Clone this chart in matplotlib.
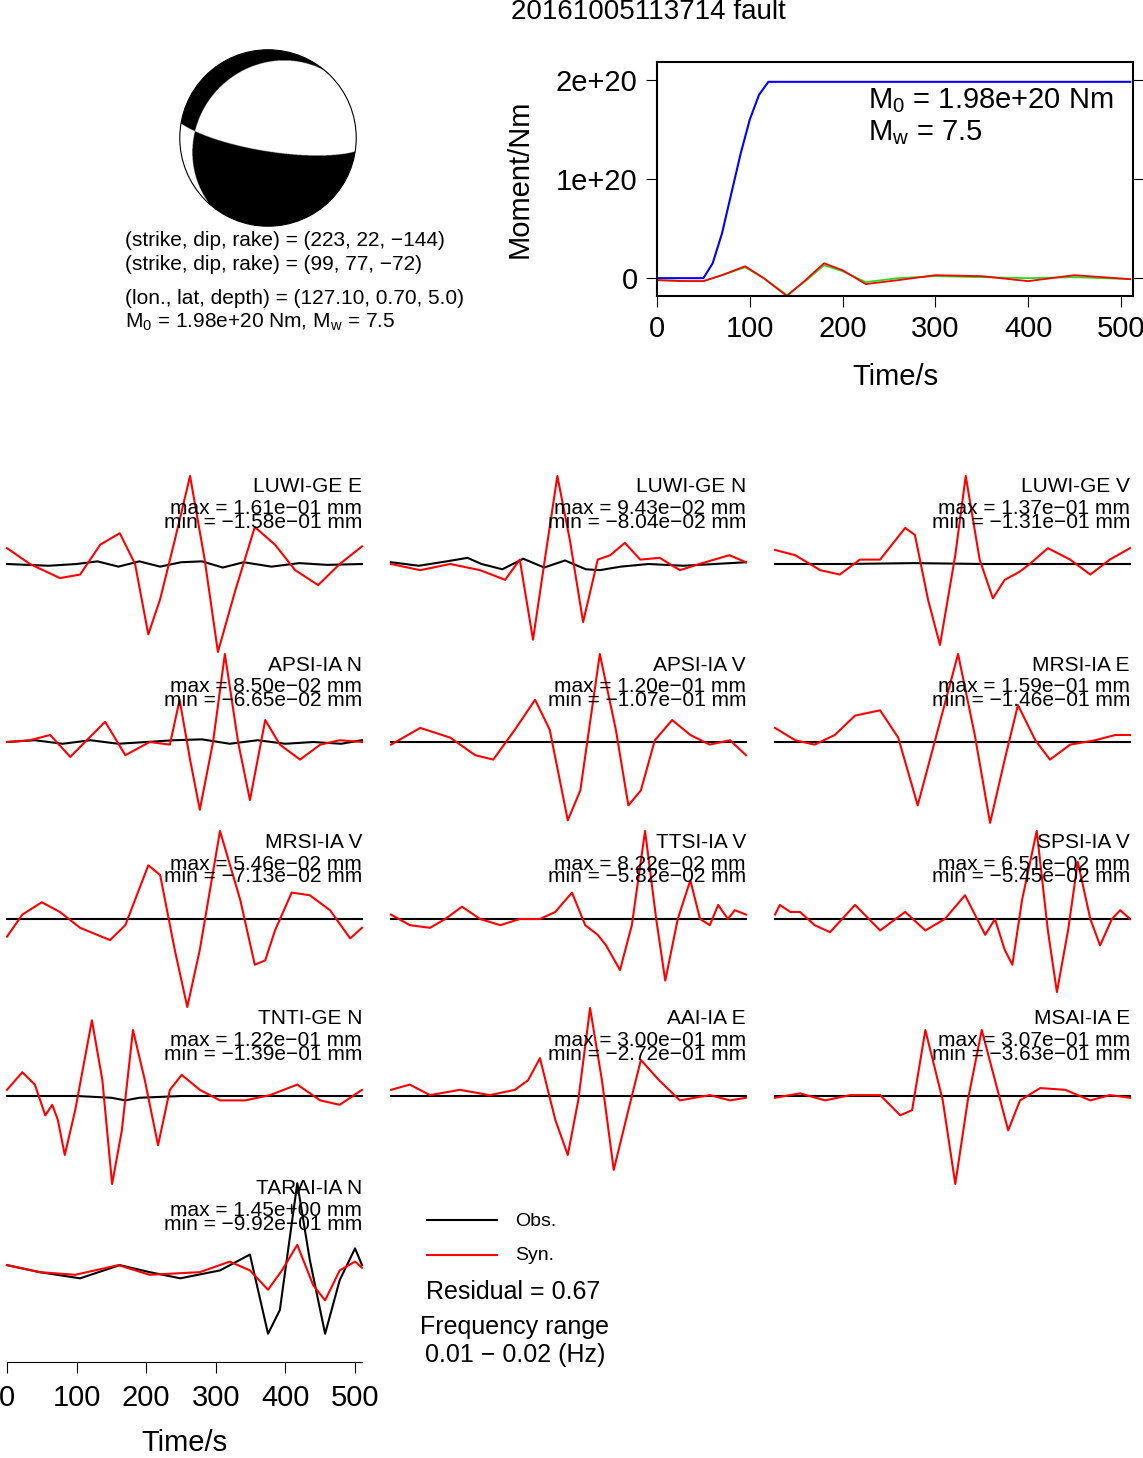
import numpy as np
import matplotlib
matplotlib.use("Agg")
import matplotlib.pyplot as plt
from matplotlib.patches import Circle

plt.rcParams['font.family'] = ['Liberation Sans', 'DejaVu Sans']
plt.rcParams['mathtext.default'] = 'regular'
W, H = 1143, 1458
fig = plt.figure(figsize=(W/100, H/100), dpi=100)

title = "20161005113714 fault"
strike, dip, rake = 223, 22, -144
info_lines = ["(strike, dip, rake) = (223, 22, \u2212144)",
              "(strike, dip, rake) = (99, 77, \u221272)",
              "(lon., lat, depth) = (127.10, 0.70, 5.0)",
              "M$_0$ = 1.98e+20 Nm, M$_w$ = 7.5"]

# moment function
mt_t = [0, 50, 60, 70, 80, 90, 100, 110, 120, 510]
mt_cum = [0, 0, 0.15, 0.45, 0.85, 1.25, 1.6, 1.85, 1.98, 1.98]
osc_t = [0, 30, 50, 70, 95, 115, 140, 160, 180, 200, 225, 260, 300, 350, 400, 450, 510]
osc_red = [-0.02, -0.03, -0.03, 0.03, 0.12, 0.0, -0.18, -0.02, 0.15, 0.08, -0.06, -0.02, 0.03, 0.02, -0.03, 0.03, -0.01]
osc_green = [-0.02, -0.03, -0.03, 0.03, 0.11, 0.0, -0.17, -0.03, 0.13, 0.07, -0.04, 0.0, 0.02, 0.01, 0.0, 0.01, -0.01]

stations = ["LUWI-GE E", "LUWI-GE N", "LUWI-GE V", "APSI-IA N", "APSI-IA V", "MRSI-IA E",
            "MRSI-IA V", "TTSI-IA V", "SPSI-IA V", "TNTI-GE N", "AAI-IA E", "MSAI-IA E", "TARAI-IA N"]
maxs = ["1.61e\u221201", "9.43e\u221202", "1.37e\u221201", "8.50e\u221202", "1.20e\u221201", "1.59e\u221201",
        "5.46e\u221202", "8.22e\u221202", "6.51e\u221202", "1.22e\u221201", "3.00e\u221201", "3.07e\u221201", "1.45e+00"]
mins = ["\u22121.58e\u221201", "\u22128.04e\u221202", "\u22121.31e\u221201", "\u22126.65e\u221202", "\u22121.07e\u221201", "\u22121.46e\u221201",
        "\u22127.13e\u221202", "\u22125.82e\u221202", "\u22125.45e\u221202", "\u22121.39e\u221201", "\u22122.72e\u221201", "\u22123.63e\u221201", "\u22129.92e\u221201"]

syn_t = [
 [0,33,76,105,134,162,184,203,220,241,263,284,303,328,356,385,414,447,478,510],
 [0,42,85,128,164,185,204,221,239,257,276,297,315,336,358,386,415,443,486,510],
 [0,29,65,93,122,151,187,201,220,237,259,274,294,313,330,351,366,392,424,453,481,510],
 [0,33,62,91,112,141,170,205,234,248,263,277,296,313,332,349,371,392,421,450,478,510],
 [0,42,85,121,147,178,207,228,254,272,300,323,341,359,379,404,430,458,487,510],
 [0,29,57,86,115,151,177,205,230,263,287,309,330,349,374,395,424,460,489,510],
 [0,22,50,76,105,148,170,203,220,241,259,277,306,335,356,371,385,409,435,464,493,510],
 [0,27,56,78,102,128,157,185,214,236,260,279,297,309,329,346,365,381,394,412,430,444,458,470,484,494,510],
 [0,7,22,36,57,79,115,151,187,216,244,273,302,316,330,341,355,376,392,405,421,435,453,467,484,496,510],
 [0,22,40,55,65,73,83,98,122,137,151,165,181,198,217,234,251,277,306,342,378,417,450,478,510],
 [0,27,56,99,142,178,197,214,236,254,269,286,303,320,341,359,385,415,458,487,510],
 [0,36,72,108,151,180,197,216,241,259,277,297,316,335,352,381,417,453,481,510],
 [0,47,98,160,205,277,320,349,375,395,417,440,457,478,500,510],
]
syn_v = [
 [.18,0,-.16,-.12,.22,.35,0,-.8,-.4,.27,1.0,.05,-1.0,-.3,.42,.22,-.07,-.24,0,.2],
 [0,-.07,0,-.07,-.18,.05,-.86,.05,1.0,.27,-.66,.05,.1,.24,.05,.07,-.07,0,.1,.02],
 [.16,.1,-.07,-.12,.05,.05,.41,.33,-.41,-.92,.1,1.0,.05,-.39,-.18,-.09,0,.18,.05,-.12,.05,.18],
 [0,.02,.08,-.17,0,.23,-.15,0,-.03,.48,-.2,-.77,0,1.0,0,-.66,.25,-.03,-.2,-.03,.02,0],
 [-.03,.16,.05,-.15,-.2,.14,.48,.14,-.89,-.55,1.0,.14,-.72,-.55,.02,.25,.08,-.03,.02,-.15],
 [.16,.02,-.03,.08,.3,.36,.05,-.72,.02,1.0,.08,-.92,-.2,.42,.02,-.2,-.03,.02,.08,.08],
 [-.2,.05,.19,.08,-.1,-.24,-.07,.61,.5,-.35,-1.0,-.35,1.0,.22,-.52,-.47,-.13,.3,.27,.1,-.22,-.1],
 [.05,-.07,-.1,0,.14,0,-.07,0,0,.08,.3,-.07,-.18,-.3,-.58,-.07,1.0,0,-.7,0,.44,0,-.07,.16,0,.1,.05],
 [.05,.16,.08,.08,-.07,-.15,.16,-.13,.08,-.13,0,.27,-.18,0,-.35,-.52,.22,1.0,-.13,-.83,-.13,.65,0,-.3,0,.1,0],
 [.07,.27,.13,-.22,-.1,-.27,-.67,-.16,.86,.18,-1.0,-.39,.75,.18,-.56,.07,.24,.07,-.05,-.05,.01,.13,-.05,-.1,.07],
 [.07,.13,.01,.07,.01,.07,.18,.43,-.27,-.67,-.05,1.0,.18,-.84,-.16,.41,.18,-.05,.01,-.05,-.02],
 [-.02,.03,-.05,.01,.01,-.22,-.16,.75,-.05,-1.0,-.05,.75,.18,-.39,-.05,.09,.07,-.05,.01,-.02],
 [.01,-.07,-.1,.01,-.1,-.07,.05,-.05,-.27,-.05,.24,-.22,-.39,-.05,.05,-.02],
]
obs_t = [
 [0,60,100,130,160,190,220,250,280,310,340,380,420,460,510],
 [0,40,80,110,130,160,190,220,250,280,300,330,370,420,510],
 [0,100,200,300,400,510],
 [0,40,80,120,160,200,240,280,320,360,400,440,480,510],
 [0,250,510], [0,250,510], [0,250,510], [0,250,510], [0,250,510],
 [0,100,150,170,190,250,510],
 [0,250,510], [0,250,510],
 [0,47,105,162,205,249,306,349,375,392,417,435,457,478,500,510],
]
obs_v = [
 [.0,-.02,.0,.03,-.03,.03,-.03,.02,.03,-.04,.02,-.03,.01,-.01,.0],
 [.02,-.02,.03,.07,.0,-.06,.06,-.04,.04,-.06,-.07,-.03,.0,-.02,.02],
 [0,0,.01,0,0,0],
 [.0,.02,-.02,.02,-.02,.0,.02,.03,-.02,.02,-.02,.0,-.02,.02],
 [0,0,0], [0,0,0], [0,0,0], [0,0,0], [0,0,0],
 [0,0,-.02,-.05,-.02,0,0],
 [0,0,0], [0,0,0],
 [.01,-.07,-.14,.01,-.07,-.14,-.05,.13,-.77,-.5,.94,.07,-.77,-.16,.2,.01],
]

def fx(px): return px / W
def fy(py): return 1 - py / H

fig.text(fx(648), fy(12), title, ha='center', va='center', fontsize=20)

# beachball
r0 = 88
axb = fig.add_axes([fx(268 - r0 - 2), fy(138 + r0 + 2), (2*r0 + 4)/W, (2*r0 + 4)/H])
axb.set_xlim(-1.02, 1.02); axb.set_ylim(-1.02, 1.02); axb.axis('off')
s, d, rk = np.radians([strike, dip, rake])
sd, cd, s2d, c2d = np.sin(d), np.cos(d), np.sin(2*d), np.cos(2*d)
sr, cr = np.sin(rk), np.cos(rk)
ss, cs, s2s, c2s = np.sin(s), np.cos(s), np.sin(2*s), np.cos(2*s)
M = np.array([[-(sd*cr*s2s + s2d*sr*ss**2), sd*cr*c2s + 0.5*s2d*sr*s2s, -(cd*cr*cs + c2d*sr*ss)],
              [0, sd*cr*s2s - s2d*sr*cs**2, -(cd*cr*ss - c2d*sr*cs)],
              [0, 0, s2d*sr]])
M = M + np.triu(M, 1).T
g = np.linspace(-1, 1, 600)
X, Y = np.meshgrid(g, g)
R = np.sqrt(X**2 + Y**2)
inc = 2*np.arcsin(np.clip(R, 0, 1)/np.sqrt(2))
az = np.arctan2(X, Y)
n = np.stack([np.sin(inc)*np.cos(az), np.sin(inc)*np.sin(az), np.cos(inc)])
amp = np.einsum('iab,ij,jab->ab', n, M, n)
img = np.where(amp > 0, 0.0, 1.0)
circ = Circle((0, 0), 1, transform=axb.transData)
im = axb.imshow(img, extent=(-1, 1, -1, 1), origin='lower', cmap='gray', vmin=0, vmax=1, interpolation='bilinear')
im.set_clip_path(circ)
axb.add_patch(Circle((0, 0), 1, fill=False, lw=0.8, color='black'))
for txt, yy in zip(info_lines, [240, 264, 298, 322]):
    fig.text(fx(125), fy(yy), txt, ha='left', va='center', fontsize=15)

# moment plot
axm = fig.add_axes([fx(657), fy(296), (1133-657)/W, (296-62)/H])
axm.plot(mt_t, np.array(mt_cum)*1e20, color='blue', lw=1.5)
axm.plot(osc_t, np.array(osc_green)*1e20, color='#22dd22', lw=1.3)
axm.plot(osc_t, np.array(osc_red)*1e20, color='red', lw=1.3)
axm.set_xlim(0, 513); axm.set_ylim(-0.18e20, 2.18e20)
axm.set_yticks([0, 1e20, 2e20]); axm.set_yticklabels(['0', '1e+20', '2e+20'])
axm.set_xticks([0, 100, 200, 300, 400, 500])
axm.tick_params(labelsize=21, direction='out', length=8, right=True, pad=6)
for sp in axm.spines.values(): sp.set_linewidth(1.5)
axm.set_xlabel('Time/s', fontsize=21, labelpad=14)
axm.set_ylabel('Moment/Nm', fontsize=21, labelpad=16)
fig.text(fx(868), fy(101), 'M$_0$ = 1.98e+20 Nm', fontsize=21, va='center')
fig.text(fx(868), fy(133), 'M$_w$ = 7.5', fontsize=21, va='center')

# waveforms
xcols = [7, 391, 775]
bases = [564, 742, 919, 1096, 1266]
amp_px = 88
for k in range(13):
    col, row = k % 3, k // 3
    x0, b = xcols[col], bases[row]
    ax = fig.add_axes([fx(x0), fy(b + amp_px), 355/W, 2*amp_px/H])
    ax.set_xlim(0, 510); ax.set_ylim(-1, 1); ax.axis('off')
    ax.plot(obs_t[k], obs_v[k], color='black', lw=1.5, clip_on=False)
    ax.plot(syn_t[k], syn_v[k], color='red', lw=1.5, clip_on=False)
    xr = fx(x0 + 355)
    fig.text(xr, fy(b - 77), stations[k], ha='right', va='center', fontsize=15)
    fig.text(xr, fy(b - 55), "max = %s mm" % maxs[k], ha='right', va='center', fontsize=15)
    fig.text(xr, fy(b - 42), "min = %s mm" % mins[k], ha='right', va='center', fontsize=15)

axt = fig.add_axes([fx(7), fy(1362), 355/W, 0.001])
axt.set_xlim(0, 510)
for sp in ['top', 'left', 'right']: axt.spines[sp].set_visible(False)
axt.set_yticks([])
axt.set_xticks([0, 100, 200, 300, 400, 500])
axt.tick_params(labelsize=21, length=8, pad=8)
axt.set_xlabel('Time/s', fontsize=21, labelpad=12)

# legend
fig.lines.append(plt.Line2D([fx(427), fx(497)], [fy(1220), fy(1220)], color='black', lw=1.5, transform=fig.transFigure))
fig.lines.append(plt.Line2D([fx(427), fx(497)], [fy(1255), fy(1255)], color='red', lw=1.5, transform=fig.transFigure))
fig.text(fx(515), fy(1221), 'Obs.', fontsize=14, va='center')
fig.text(fx(515), fy(1256), 'Syn.', fontsize=14, va='center')
fig.text(fx(513), fy(1292), 'Residual = 0.67', fontsize=18, ha='center', va='center')
fig.text(fx(515), fy(1327), 'Frequency range', fontsize=18, ha='center', va='center')
fig.text(fx(515), fy(1355), '0.01 \u2212 0.02 (Hz)', fontsize=18, ha='center', va='center')

fig.savefig('out.png', dpi=100)
